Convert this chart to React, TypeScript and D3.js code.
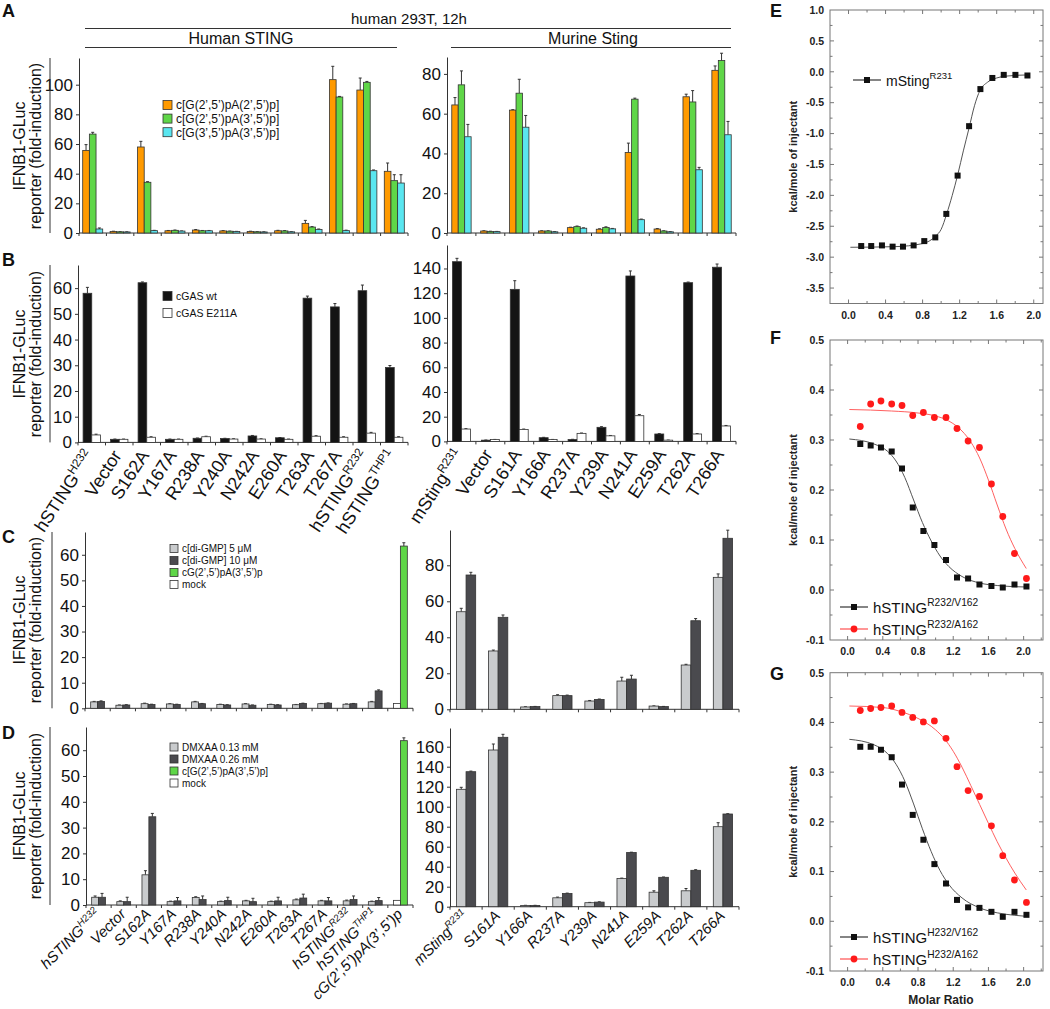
import { useEffect, useRef } from "react";
import * as d3 from "d3";

const FONT = "'Liberation Sans', Arial, Helvetica, sans-serif";

// ---------- categories ----------
const humanCats = ["hSTING^H232", "Vector", "S162A", "Y167A", "R238A", "Y240A", "N242A", "E260A", "T263A", "T267A", "hSTING^R232", "hSTING^THP1"];
const murineCats = ["mSting^R231", "Vector", "S161A", "Y166A", "R237A", "Y239A", "N241A", "E259A", "T262A", "T266A"];
const humanCatsCD = [...humanCats, "cG(2’,5’)pA(3’,5’)p"];
const murineCatsCD = ["mSting^R231", "S161A", "Y166A", "R237A", "Y239A", "N241A", "E259A", "T262A", "T266A"];

// ---------- panel A ----------
const aLeftOrange = [55.7, 1.0, 58.0, 1.5, 2.0, 1.4, 1.0, 1.5, 6.5, 103.4, 96.4, 41.6];
const aLeftOrangeErr = [3.9, 0.2, 3.8, 0.2, 0.3, 0.2, 0.2, 0.3, 2.0, 9.0, 8.1, 5.6];
const aLeftGreen = [66.7, 0.8, 34.2, 1.8, 1.5, 1.2, 0.8, 1.4, 4.0, 91.7, 101.6, 35.3];
const aLeftGreenErr = [1.2, 0.1, 0.4, 0.2, 0.2, 0.1, 0.1, 0.2, 0.3, 0.4, 0.6, 4.0];
const aLeftCyan = [2.7, 0.7, 1.6, 1.3, 1.5, 1.0, 0.7, 0.8, 2.3, 1.6, 42.0, 33.7];
const aLeftCyanErr = [0.7, 0.1, 0.2, 0.1, 0.2, 0.1, 0.1, 0.1, 0.4, 0.3, 0.5, 5.6];

const aRightOrange = [64.4, 1.0, 61.8, 1.0, 2.7, 1.9, 40.5, 2.0, 68.5, 81.8];
const aRightOrangeErr = [3.7, 0.1, 0.2, 0.1, 0.2, 0.2, 4.7, 0.2, 1.3, 2.2];
const aRightGreen = [74.5, 0.8, 70.3, 1.0, 3.2, 2.8, 67.3, 1.0, 65.9, 86.7];
const aRightGreenErr = [7.0, 0.1, 7.0, 0.1, 0.3, 0.3, 0.5, 0.1, 5.7, 3.7];
const aRightCyan = [48.4, 0.7, 53.2, 0.6, 2.4, 2.1, 6.7, 0.6, 31.8, 49.4];
const aRightCyanErr = [6.2, 0.1, 5.9, 0.1, 0.2, 0.2, 0.3, 0.1, 1.2, 6.7];

// ---------- panel B ----------
const bLeftWt = [58.0, 1.2, 62.1, 1.2, 1.6, 1.5, 2.5, 1.8, 56.1, 52.7, 59.0, 29.1];
const bLeftWtErr = [2.3, 0.1, 0.3, 0.1, 0.1, 0.1, 0.2, 0.1, 0.8, 1.3, 2.2, 0.8];
const bLeftMut = [2.9, 1.2, 2.0, 1.2, 2.2, 1.3, 1.3, 1.2, 2.4, 2.0, 3.6, 2.0];
const bLeftMutErr = [0.3, 0.1, 0.2, 0.1, 0.2, 0.1, 0.1, 0.1, 0.2, 0.2, 0.3, 0.2];

const bRightWt = [145.5, 1.0, 123.1, 3.0, 1.5, 11.4, 133.9, 6.0, 128.5, 141.0];
const bRightWtErr = [2.7, 0.1, 7.0, 0.3, 0.2, 0.5, 4.1, 0.3, 0.5, 2.6];
const bRightMut = [10.0, 1.5, 9.7, 1.5, 6.5, 4.5, 20.8, 1.0, 6.0, 12.5];
const bRightMutErr = [0.3, 0.1, 0.3, 0.1, 0.3, 0.3, 1.0, 0.1, 0.3, 0.4];

// ---------- panel C ----------
const cLeftLight = [2.5, 1.2, 1.8, 1.7, 2.5, 1.5, 1.7, 1.5, 1.4, 1.8, 1.6, 2.5, null];
const cLeftLightErr = [0.2, 0.1, 0.2, 0.1, 0.2, 0.1, 0.1, 0.1, 0.1, 0.1, 0.1, 0.2, null];
const cLeftDark = [2.7, 1.3, 1.5, 1.5, 1.8, 1.3, 1.2, 1.3, 1.9, 2.0, 1.8, 6.8, null];
const cLeftDarkErr = [0.2, 0.1, 0.1, 0.1, 0.1, 0.1, 0.1, 0.1, 0.1, 0.1, 0.1, 0.4, null];
const cLeftMock = [null, null, null, null, null, null, null, null, null, null, null, null, 1.9];
const cLeftGreen = [null, null, null, null, null, null, null, null, null, null, null, null, 63.4];
const cLeftGreenErr = [null, null, null, null, null, null, null, null, null, null, null, null, 1.3];

const cRightLight = [54.2, 32.4, 1.3, 7.6, 4.6, 15.7, 1.8, 24.6, 73.3];
const cRightLightErr = [1.9, 0.5, 0.1, 0.5, 0.3, 2.1, 0.1, 0.4, 1.9];
const cRightDark = [74.6, 51.1, 1.5, 7.6, 5.5, 16.8, 1.5, 49.2, 95.0];
const cRightDarkErr = [1.5, 1.3, 0.1, 0.3, 0.2, 2.1, 0.1, 1.2, 4.5];

// ---------- panel D ----------
const dLeftLight = [3.0, 1.3, 11.7, 1.3, 2.9, 1.3, 1.6, 1.3, 2.0, 1.6, 1.6, 1.3, null];
const dLeftLightErr = [0.5, 0.3, 1.6, 0.2, 0.3, 0.2, 0.2, 0.2, 0.3, 0.2, 0.3, 0.2, null];
const dLeftDark = [3.0, 1.3, 34.2, 1.6, 2.1, 1.7, 1.3, 1.6, 2.7, 1.6, 2.1, 1.7, null];
const dLeftDarkErr = [1.5, 1.7, 1.3, 1.3, 1.4, 1.3, 1.3, 1.4, 1.5, 1.3, 1.4, 1.2, null];
const dLeftMock = [null, null, null, null, null, null, null, null, null, null, null, null, 1.8];
const dLeftGreen = [null, null, null, null, null, null, null, null, null, null, null, null, 63.7];
const dLeftGreenErr = [null, null, null, null, null, null, null, null, null, null, null, null, 1.1];

const dRightLight = [117.4, 156.7, 1.3, 8.9, 4.0, 28.1, 14.5, 15.9, 80.0];
const dRightLightErr = [2.0, 6.0, 0.1, 0.7, 0.3, 0.5, 1.4, 2.3, 4.0];
const dRightDark = [135.0, 169.4, 1.3, 13.2, 4.6, 54.2, 29.4, 36.4, 92.7];
const dRightDarkErr = [0.6, 3.0, 0.1, 0.4, 0.3, 0.3, 0.3, 0.6, 0.3];

// ---------- ITC panels E, F, G ----------
const itcXTicks = [0.0, 0.4, 0.8, 1.2, 1.6, 2.0];
const eYTicks = [-3.5, -3.0, -2.5, -2.0, -1.5, -1.0, -0.5, 0.0, 0.5, 1.0];
const fgYTicks = [-0.1, 0.0, 0.1, 0.2, 0.3, 0.4, 0.5];

const eX = [0.137, 0.245, 0.361, 0.476, 0.588, 0.703, 0.818, 0.937, 1.056, 1.178, 1.302, 1.424, 1.553, 1.676, 1.802, 1.932];
const eY = [-2.82, -2.82, -2.81, -2.83, -2.83, -2.81, -2.74, -2.68, -2.30, -1.68, -0.88, -0.28, -0.10, -0.05, -0.05, -0.06];
const eFitX = [0.02, 0.5, 0.8, 0.94, 1.0, 1.06, 1.12, 1.18, 1.24, 1.3, 1.36, 1.42, 1.5, 1.6, 1.7, 1.95];
const eFitY = [-2.84, -2.83, -2.78, -2.66, -2.55, -2.3, -2.0, -1.66, -1.28, -0.92, -0.55, -0.3, -0.17, -0.1, -0.07, -0.05];

const fgX = [0.144, 0.262, 0.379, 0.501, 0.618, 0.74, 0.861, 0.986, 1.118, 1.243, 1.369, 1.498, 1.634, 1.763, 1.896, 2.032];
const fBlackY = [0.292, 0.289, 0.285, 0.277, 0.243, 0.165, 0.118, 0.090, 0.060, 0.025, 0.023, 0.011, 0.008, 0.005, 0.011, 0.007];
const fRedY = [0.327, 0.372, 0.378, 0.372, 0.369, 0.349, 0.355, 0.345, 0.345, 0.323, 0.298, 0.285, 0.212, 0.147, 0.073, 0.023];
const fBlackFitX = [0.02, 0.3, 0.45, 0.55, 0.65, 0.75, 0.85, 0.95, 1.05, 1.15, 1.3, 1.5, 1.7, 2.03];
const fBlackFitY = [0.302, 0.292, 0.278, 0.258, 0.225, 0.180, 0.135, 0.098, 0.068, 0.047, 0.027, 0.014, 0.009, 0.006];
const fRedFitX = [0.02, 0.5, 0.8, 1.0, 1.15, 1.3, 1.4, 1.5, 1.6, 1.7, 1.8, 1.9, 2.03];
const fRedFitY = [0.361, 0.358, 0.354, 0.348, 0.338, 0.318, 0.296, 0.264, 0.22, 0.17, 0.122, 0.083, 0.043];

const gBlackY = [0.351, 0.351, 0.345, 0.330, 0.275, 0.214, 0.164, 0.115, 0.076, 0.043, 0.028, 0.027, 0.019, 0.009, 0.019, 0.013];
const gRedY = [0.424, 0.428, 0.430, 0.433, 0.420, 0.410, 0.401, 0.403, 0.368, 0.311, 0.263, 0.251, 0.192, 0.132, 0.083, 0.038];
const gBlackFitX = [0.02, 0.3, 0.45, 0.55, 0.65, 0.75, 0.85, 0.95, 1.05, 1.15, 1.3, 1.5, 1.7, 1.9, 2.03];
const gBlackFitY = [0.366, 0.355, 0.338, 0.316, 0.282, 0.236, 0.186, 0.140, 0.102, 0.074, 0.047, 0.027, 0.017, 0.012, 0.010];
const gRedFitX = [0.02, 0.4, 0.6, 0.8, 1.0, 1.1, 1.2, 1.3, 1.4, 1.5, 1.6, 1.7, 1.8, 1.9, 2.03];
const gRedFitY = [0.433, 0.430, 0.422, 0.408, 0.385, 0.367, 0.342, 0.31, 0.273, 0.235, 0.197, 0.16, 0.127, 0.097, 0.063];

// colours
const ORANGE = "#ff9a00";
const GREEN = "#5fd648";
const CYAN = "#5ae6f0";
const BLACK = "#141414";
const LIGHT = "#c9cbcd";
const DARK = "#4a4a4e";
const RED = "#ff1a1a";

function rich(text, str, supSize, supDy) {
  const parts = str.split("^");
  text.append("tspan").text(parts[0]);
  if (parts[1]) text.append("tspan").attr("font-size", supSize).attr("dy", -supDy).text(parts[1]);
}

function barPanel(svg, p) {
  const g = svg.append("g");
  const y = d3.scaleLinear().domain([0, p.topVal]).range([p.base, p.top]);
  const x = d3.scaleBand().domain(p.cats).range([p.x0, p.x1]).paddingInner(p.pad).paddingOuter(p.pad / 2);
  const slot = d3.scaleBand().domain(d3.range(p.slots).map(String)).range([0, x.bandwidth()]);
  const bounds = d3.scaleLinear().domain([0, p.cats.length]).range([p.x0, p.x1]);

  // y axis
  g.append("g")
    .attr("transform", `translate(${p.x0},0)`)
    .call(d3.axisLeft(y).tickValues(p.ticks).tickSize(3).tickSizeOuter(0).tickPadding(3))
    .call(ax => {
      ax.attr("font-size", null).attr("font-family", null);
      ax.select(".domain").attr("stroke", "#333");
      ax.selectAll("line").attr("stroke", "#333");
      ax.selectAll("text").attr("font-size", 17).attr("fill", "#111");
    });

  // x axis with ticks at group boundaries
  g.append("line").attr("x1", p.x0).attr("x2", p.x1).attr("y1", p.base).attr("y2", p.base)
    .attr("stroke", "#333").attr("stroke-width", 1);
  d3.range(p.cats.length + 1).forEach(i => {
    g.append("line").attr("x1", bounds(i)).attr("x2", bounds(i)).attr("y1", p.base).attr("y2", p.base + 3)
      .attr("stroke", "#333");
  });

  // bracket line left of tick labels
  if (p.bracketX) {
    g.append("line").attr("x1", p.bracketX).attr("x2", p.bracketX).attr("y1", p.top).attr("y2", p.base)
      .attr("stroke", "#333");
  }

  p.series.forEach(s => {
    p.cats.forEach((c, i) => {
      const v = s.values[i];
      if (v == null) return;
      const bx = x(c) + slot(String(s.slot));
      const bw = slot.bandwidth();
      const e = s.errs ? s.errs[i] : null;
      if (e) {
        const cx = bx + bw / 2;
        g.append("line").attr("x1", cx).attr("x2", cx).attr("y1", y(v)).attr("y2", y(v + e))
          .attr("stroke", "#333").attr("stroke-width", 1);
        g.append("line").attr("x1", cx - 1.5).attr("x2", cx + 1.5).attr("y1", y(v + e)).attr("y2", y(v + e))
          .attr("stroke", "#333").attr("stroke-width", 1);
      }
      g.append("rect")
        .attr("x", bx).attr("y", y(v))
        .attr("width", bw).attr("height", y(0) - y(v))
        .attr("fill", s.color)
        .attr("stroke", "#333").attr("stroke-width", 0.8);
    });
  });

  // rotated category labels
  if (p.labels) {
    p.cats.forEach(c => {
      const cx = x(c) + x.bandwidth() / 2;
      const t = g.append("text")
        .attr("transform", `translate(${cx + p.labels.dx},${p.base + p.labels.dy}) rotate(${p.labels.rot})`)
        .attr("text-anchor", "end")
        .attr("font-size", p.labels.size)
        .attr("font-style", p.labels.italic ? "italic" : null)
        .attr("fill", "#111");
      rich(t, c, p.labels.size * 0.65, p.labels.size * 0.4);
    });
  }

  // legend
  if (p.legend) {
    p.legend.items.forEach((it, i) => {
      const ly = p.legend.y + i * p.legend.gap;
      g.append("rect").attr("x", p.legend.x).attr("y", ly - p.legend.box / 2)
        .attr("width", p.legend.box).attr("height", p.legend.box)
        .attr("fill", it.color).attr("stroke", "#333").attr("stroke-width", 0.8);
      g.append("text").attr("x", p.legend.x + p.legend.box + 4).attr("y", ly + p.legend.size * 0.36)
        .attr("font-size", p.legend.size).attr("fill", "#111").text(it.label);
    });
  }
}

function yTitle(svg, x1, x2, cy) {
  svg.append("text").attr("transform", `translate(${x1},${cy}) rotate(-90)`)
    .attr("text-anchor", "middle").attr("font-size", 16).attr("fill", "#111").text("IFNB1-GLuc");
  svg.append("text").attr("transform", `translate(${x2},${cy}) rotate(-90)`)
    .attr("text-anchor", "middle").attr("font-size", 16).attr("fill", "#111").text("reporter (fold-induction)");
}

function itcPanel(svg, p) {
  const g = svg.append("g");
  const L = 830, R = 1043;
  const x = d3.scaleLinear().domain(p.xDomain).range([L, R]);
  const y = d3.scaleLinear().domain(p.yDomain).range([p.bottom, p.top]);

  g.append("rect").attr("x", L).attr("y", p.top).attr("width", R - L).attr("height", p.bottom - p.top)
    .attr("fill", "none").attr("stroke", "#777").attr("stroke-width", 1);

  const xStep = itcXTicks[1] - itcXTicks[0];
  const xMinor = d3.range(itcXTicks[0] - xStep / 2, p.xDomain[1], xStep / 2)
    .filter(v => v > p.xDomain[0] && v < p.xDomain[1]);
  xMinor.forEach(v => {
    const major = itcXTicks.some(t => Math.abs(t - v) < 1e-6);
    const len = major ? 4 : 2.5;
    g.append("line").attr("x1", x(v)).attr("x2", x(v)).attr("y1", p.bottom).attr("y2", p.bottom - len).attr("stroke", "#777");
    g.append("line").attr("x1", x(v)).attr("x2", x(v)).attr("y1", p.top).attr("y2", p.top + len).attr("stroke", "#777");
  });
  itcXTicks.forEach(v => {
    g.append("text").attr("x", x(v)).attr("y", p.bottom + 15).attr("text-anchor", "middle")
      .attr("font-size", 10.5).attr("font-weight", "bold").attr("fill", "#222").text(d3.format(".1f")(v));
  });

  const yStep = p.yTicks[1] - p.yTicks[0];
  const yMinor = d3.range(p.yTicks[0], p.yDomain[1] + 1e-9, yStep / 2).concat([p.yTicks[0] - yStep / 2])
    .filter(v => v > p.yDomain[0] + 1e-9 && v < p.yDomain[1] - 1e-9);
  yMinor.forEach(v => {
    const major = p.yTicks.some(t => Math.abs(t - v) < 1e-6);
    const len = major ? 4 : 2.5;
    g.append("line").attr("x1", L).attr("x2", L + len).attr("y1", y(v)).attr("y2", y(v)).attr("stroke", "#777");
    g.append("line").attr("x1", R).attr("x2", R - len).attr("y1", y(v)).attr("y2", y(v)).attr("stroke", "#777");
  });
  p.yTicks.forEach(v => {
    g.append("text").attr("x", L - 6).attr("y", y(v) + 3.8).attr("text-anchor", "end")
      .attr("font-size", 10.5).attr("font-weight", "bold").attr("fill", "#222")
      .text(Math.abs(v) < 1e-9 ? "0.0" : d3.format(".1f")(v).replace("−", "-"));
  });

  g.append("text").attr("transform", `translate(797,${(p.top + p.bottom) / 2}) rotate(-90)`)
    .attr("text-anchor", "middle").attr("font-size", 11).attr("font-weight", "bold").attr("fill", "#222")
    .text("kcal/mole of injectant");

  const line = d3.line().curve(d3.curveMonotoneX);
  p.series.forEach(s => {
    g.append("path")
      .attr("d", line(s.fitX.map((v, i) => [x(v), y(s.fitY[i])])))
      .attr("fill", "none").attr("stroke", s.lineColor).attr("stroke-width", 1);
    s.ys.forEach((v, i) => {
      if (s.shape === "square") {
        g.append("rect").attr("x", x(p.xs[i]) - 3).attr("y", y(v) - 3).attr("width", 6).attr("height", 6).attr("fill", s.color);
      } else {
        g.append("circle").attr("cx", x(p.xs[i])).attr("cy", y(v)).attr("r", 3.4).attr("fill", s.color);
      }
    });
  });

  p.legend.forEach((it, i) => {
    const ly = p.legend0.y + i * 22;
    const lx = p.legend0.x;
    g.append("line").attr("x1", lx).attr("x2", lx + 28).attr("y1", ly).attr("y2", ly)
      .attr("stroke", it.lineColor).attr("stroke-width", 1.2);
    if (it.shape === "square") {
      g.append("rect").attr("x", lx + 11).attr("y", ly - 3).attr("width", 6).attr("height", 6).attr("fill", it.color);
    } else {
      g.append("circle").attr("cx", lx + 14).attr("cy", ly).attr("r", 3.4).attr("fill", it.color);
    }
    const t = g.append("text").attr("x", lx + 33).attr("y", ly + 5.5).attr("font-size", p.legend0.size).attr("fill", "#111");
    rich(t, it.label, p.legend0.size * 0.68, p.legend0.size * 0.45);
  });
}

function draw(svgEl) {
  const svg = d3.select(svgEl);
  svg.selectAll("*").remove();
  svg.attr("font-family", FONT);

  // headers
  svg.append("text").attr("x", 409).attr("y", 24).attr("text-anchor", "middle").attr("font-size", 15).attr("fill", "#111").text("human 293T, 12h");
  svg.append("line").attr("x1", 85).attr("x2", 731).attr("y1", 28.5).attr("y2", 28.5).attr("stroke", "#333");
  svg.append("text").attr("x", 241).attr("y", 44).attr("text-anchor", "middle").attr("font-size", 16).attr("fill", "#111").text("Human STING");
  svg.append("line").attr("x1", 85).attr("x2", 397).attr("y1", 47.5).attr("y2", 47.5).attr("stroke", "#333");
  svg.append("text").attr("x", 593).attr("y", 44).attr("text-anchor", "middle").attr("font-size", 16).attr("fill", "#111").text("Murine Sting");
  svg.append("line").attr("x1", 451).attr("x2", 731).attr("y1", 47.5).attr("y2", 47.5).attr("stroke", "#333");

  // panel letters
  [["A", 2, 17], ["B", 2, 266], ["C", 2, 543], ["D", 2, 739], ["E", 770, 17], ["F", 770, 344], ["G", 770, 680]].forEach(([t, lx, ly]) => {
    svg.append("text").attr("x", lx).attr("y", ly).attr("font-size", 18).attr("font-weight", "bold").attr("fill", "#111").text(t);
  });

  // ---- A ----
  yTitle(svg, 25, 41, 146);
  barPanel(svg, {
    x0: 79, x1: 408, base: 233, top: 58, topVal: 118, ticks: [0, 20, 40, 60, 80, 100], cats: humanCats, pad: 0.27, slots: 3, bracketX: 50,
    series: [
      { values: aLeftOrange, errs: aLeftOrangeErr, color: ORANGE, slot: 0 },
      { values: aLeftGreen, errs: aLeftGreenErr, color: GREEN, slot: 1 },
      { values: aLeftCyan, errs: aLeftCyanErr, color: CYAN, slot: 2 },
    ],
    legend: { x: 163, y: 105, gap: 13.6, box: 9, size: 12, items: [
      { label: "c[G(2’,5’)pA(2’,5’)p]", color: ORANGE },
      { label: "c[G(2’,5’)pA(3’,5’)p]", color: GREEN },
      { label: "c[G(3’,5’)pA(3’,5’)p]", color: CYAN },
    ] },
  });
  barPanel(svg, {
    x0: 447, x1: 736, base: 233, top: 57, topVal: 88.5, ticks: [0, 20, 40, 60, 80], cats: murineCats, pad: 0.33, slots: 3,
    series: [
      { values: aRightOrange, errs: aRightOrangeErr, color: ORANGE, slot: 0 },
      { values: aRightGreen, errs: aRightGreenErr, color: GREEN, slot: 1 },
      { values: aRightCyan, errs: aRightCyanErr, color: CYAN, slot: 2 },
    ],
  });

  // ---- B ----
  yTitle(svg, 25, 41, 354);
  barPanel(svg, {
    x0: 78, x1: 408, base: 442.4, top: 265, topVal: 69, ticks: [0, 10, 20, 30, 40, 50, 60], cats: humanCats, pad: 0.37, slots: 2, bracketX: 50,
    series: [
      { values: bLeftWt, errs: bLeftWtErr, color: BLACK, slot: 0 },
      { values: bLeftMut, errs: bLeftMutErr, color: "#fff", slot: 1 },
    ],
    labels: { dx: 3, dy: 13, rot: -57, size: 18, italic: false },
    legend: { x: 163, y: 296, gap: 17, box: 9, size: 10.5, items: [
      { label: "cGAS wt", color: BLACK },
      { label: "cGAS E211A", color: "#fff" },
    ] },
  });
  barPanel(svg, {
    x0: 447, x1: 736, base: 441.4, top: 245, topVal: 159, ticks: [0, 20, 40, 60, 80, 100, 120, 140], cats: murineCats, pad: 0.38, slots: 2,
    series: [
      { values: bRightWt, errs: bRightWtErr, color: BLACK, slot: 0 },
      { values: bRightMut, errs: bRightMutErr, color: "#fff", slot: 1 },
    ],
    labels: { dx: 3, dy: 13, rot: -57, size: 18, italic: false },
  });

  // ---- C ----
  yTitle(svg, 25, 41, 620);
  barPanel(svg, {
    x0: 85, x1: 413, base: 708.3, top: 532, topVal: 68.9, ticks: [0, 10, 20, 30, 40, 50, 60], cats: humanCatsCD, pad: 0.45, slots: 2, bracketX: 52,
    series: [
      { values: cLeftLight, errs: cLeftLightErr, color: LIGHT, slot: 0 },
      { values: cLeftDark, errs: cLeftDarkErr, color: DARK, slot: 1 },
      { values: cLeftMock, errs: null, color: "#fff", slot: 0 },
      { values: cLeftGreen, errs: cLeftGreenErr, color: GREEN, slot: 1 },
    ],
    legend: { x: 170, y: 548.5, gap: 12, box: 8, size: 10, items: [
      { label: "c[di-GMP] 5 μM", color: LIGHT },
      { label: "c[di-GMP] 10 μM", color: DARK },
      { label: "cG(2’,5’)pA(3’,5’)p", color: GREEN },
      { label: "mock", color: "#fff" },
    ] },
  });
  barPanel(svg, {
    x0: 450, x1: 739, base: 709.3, top: 530, topVal: 99.6, ticks: [0, 20, 40, 60, 80], cats: murineCatsCD, pad: 0.4, slots: 2,
    series: [
      { values: cRightLight, errs: cRightLightErr, color: LIGHT, slot: 0 },
      { values: cRightDark, errs: cRightDarkErr, color: DARK, slot: 1 },
    ],
  });

  // ---- D ----
  yTitle(svg, 25, 41, 816);
  barPanel(svg, {
    x0: 86, x1: 413, base: 905, top: 727, topVal: 69, ticks: [0, 10, 20, 30, 40, 50, 60], cats: humanCatsCD, pad: 0.45, slots: 2, bracketX: 50,
    series: [
      { values: dLeftLight, errs: dLeftLightErr, color: LIGHT, slot: 0 },
      { values: dLeftDark, errs: dLeftDarkErr, color: DARK, slot: 1 },
      { values: dLeftMock, errs: null, color: "#fff", slot: 0 },
      { values: dLeftGreen, errs: dLeftGreenErr, color: GREEN, slot: 1 },
    ],
    labels: { dx: 3, dy: 10, rot: -45, size: 15, italic: true },
    legend: { x: 170, y: 747, gap: 12, box: 8, size: 10, items: [
      { label: "DMXAA 0.13 mM", color: LIGHT },
      { label: "DMXAA 0.26 mM", color: DARK },
      { label: "c[G(2’,5’)pA(3’,5’)p]", color: GREEN },
      { label: "mock", color: "#fff" },
    ] },
  });
  barPanel(svg, {
    x0: 450, x1: 739, base: 906.7, top: 728, topVal: 178.7, ticks: [0, 20, 40, 60, 80, 100, 120, 140, 160], cats: murineCatsCD, pad: 0.4, slots: 2,
    series: [
      { values: dRightLight, errs: dRightLightErr, color: LIGHT, slot: 0 },
      { values: dRightDark, errs: dRightDarkErr, color: DARK, slot: 1 },
    ],
    labels: { dx: 3, dy: 10, rot: -45, size: 15, italic: true },
  });

  // ---- E ----
  itcPanel(svg, {
    top: 10, bottom: 303.5, xDomain: [-0.2, 2.1], yDomain: [-3.75, 1.0], yTicks: eYTicks, xs: eX,
    series: [{ ys: eY, fitX: eFitX, fitY: eFitY, color: "#111", lineColor: "#555", shape: "square" }],
    legend0: { x: 853, y: 80, size: 14 },
    legend: [{ label: "mSting^R231", color: "#111", lineColor: "#333", shape: "square" }],
  });
  // ---- F ----
  itcPanel(svg, {
    top: 340, bottom: 640, xDomain: [-0.2, 2.22], yDomain: [-0.1, 0.5], yTicks: fgYTicks, xs: fgX,
    series: [
      { ys: fBlackY, fitX: fBlackFitX, fitY: fBlackFitY, color: "#111", lineColor: "#555", shape: "square" },
      { ys: fRedY, fitX: fRedFitX, fitY: fRedFitY, color: RED, lineColor: "#ff6060", shape: "circle" },
    ],
    legend0: { x: 840, y: 607, size: 15 },
    legend: [
      { label: "hSTING^R232/V162", color: "#111", lineColor: "#333", shape: "square" },
      { label: "hSTING^R232/A162", color: RED, lineColor: "#ff5050", shape: "circle" },
    ],
  });
  // ---- G ----
  itcPanel(svg, {
    top: 672.7, bottom: 971, xDomain: [-0.2, 2.22], yDomain: [-0.1, 0.5], yTicks: fgYTicks, xs: fgX,
    series: [
      { ys: gBlackY, fitX: gBlackFitX, fitY: gBlackFitY, color: "#111", lineColor: "#555", shape: "square" },
      { ys: gRedY, fitX: gRedFitX, fitY: gRedFitY, color: RED, lineColor: "#ff6060", shape: "circle" },
    ],
    legend0: { x: 840, y: 937, size: 15 },
    legend: [
      { label: "hSTING^H232/V162", color: "#111", lineColor: "#333", shape: "square" },
      { label: "hSTING^H232/A162", color: RED, lineColor: "#ff5050", shape: "circle" },
    ],
  });
  svg.append("text").attr("x", 941).attr("y", 1004).attr("text-anchor", "middle")
    .attr("font-size", 12).attr("font-weight", "bold").attr("fill", "#222").text("Molar Ratio");
}

export default function App() {
  const ref = useRef<SVGSVGElement>(null);
  useEffect(() => {
    if (ref.current) draw(ref.current);
  }, []);
  return (
    <svg
      ref={ref}
      width={1050}
      height={1009}
      style={{ position: "absolute", left: 0, top: 0, background: "#fff" }}
    />
  );
}
